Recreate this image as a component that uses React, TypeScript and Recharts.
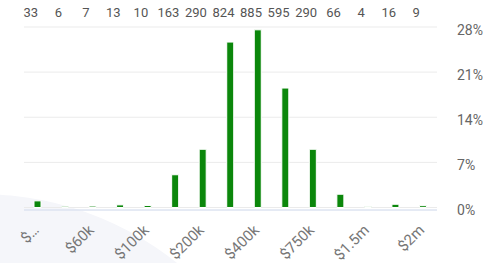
import React from 'react';
import { BarChart, Bar, XAxis, YAxis, CartesianGrid } from 'recharts';

const categories = ["$…", "$50k", "$60k", "$80k", "$100k", "$150k", "$200k", "$300k", "$400k", "$500k", "$750k", "$1m", "$1.5m", "$1.75m", "$2m"];
const counts = [33, 6, 7, 13, 10, 163, 290, 824, 885, 595, 290, 66, 4, 16, 9];
const percentTicks = [0, 7, 14, 21, 28];

const total = counts.reduce((a, b) => a + b, 0);
const data = categories.map((c, i) => ({ category: c, count: counts[i], pct: (counts[i] / total) * 100 }));

const FONT = 'Roboto, "Noto Sans", sans-serif';

const TopTick = (props: any) => {
  const { x, index } = props;
  return (
    <text x={x - 7} y={17} textAnchor="middle" fontSize={13} fill="#555" fontFamily={FONT}>
      {counts[index]}
    </text>
  );
};

const BottomTick = (props: any) => {
  const { x, y, payload } = props;
  return (
    <g transform={`translate(${x + 2},${y + 21})`}>
      <text textAnchor="end" transform="rotate(-45)" fontSize={15} fill="#777" fontFamily={FONT}>
        {payload.value}
      </text>
    </g>
  );
};

const RightTick = (props: any) => {
  const { x, y, payload } = props;
  return (
    <text x={x} y={y} dy={8} textAnchor="start" fontSize={14} fill="#666" fontFamily={FONT}>
      {payload.value}%
    </text>
  );
};

export default function App() {
  return (
    <div style={{ position: 'absolute', left: 0, top: 0, width: 483, height: 263, overflow: 'hidden', background: '#fff' }}>
      <div
        style={{
          position: 'absolute',
          left: -336,
          top: 194,
          width: 632,
          height: 632,
          borderRadius: '50%',
          background: '#f5f6fa',
        }}
      />
      <div style={{ position: 'absolute', left: 0, top: 0 }}>
        <BarChart width={483} height={263} data={data} margin={{ top: 0, right: 0, bottom: 0, left: 24 }}>
          <CartesianGrid vertical={false} stroke="#ebebeb" />
          <XAxis
            xAxisId="top"
            orientation="top"
            dataKey="category"
            height={27}
            axisLine={false}
            tickLine={false}
            interval={0}
            tick={<TopTick />}
          />
          <XAxis
            dataKey="category"
            height={53}
            interval={1}
            tickLine={false}
            tickSize={0}
            tickMargin={0}
            axisLine={{ stroke: '#d6e0f4' }}
            tick={<BottomTick />}
          />
          <YAxis
            orientation="right"
            width={46}
            type="number"
            domain={[-0.39, 28]}
            ticks={percentTicks}
            axisLine={false}
            tickLine={false}
            tickSize={0}
            tickMargin={20}
            tick={<RightTick />}
          />
          <Bar dataKey="pct" fill="#0b870b" barSize={7} stroke="#fff" strokeWidth={1} isAnimationActive={false} />
        </BarChart>
      </div>
    </div>
  );
}
